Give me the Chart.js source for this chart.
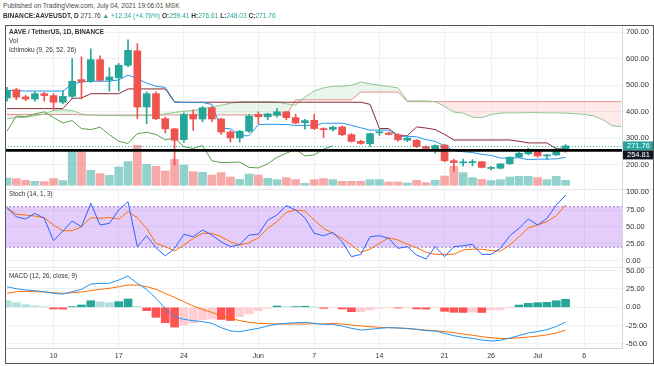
<!DOCTYPE html>
<html><head><meta charset="utf-8">
<script src="https://cdn.jsdelivr.net/npm/chart.js@4.4.1/dist/chart.umd.min.js"></script>
<style>
html,body{margin:0;padding:0;background:#fff;}
body{width:654px;height:366px;position:relative;overflow:hidden;font-family:"Liberation Sans",Arial,sans-serif;}
.t{position:absolute;white-space:nowrap;line-height:8px;z-index:10;color:#333;}
canvas{position:absolute;left:5px;}
#frame{position:absolute;left:5px;top:25px;width:649px;height:339px;box-sizing:border-box;border:1px solid #555;z-index:20;pointer-events:none;}
.sep{position:absolute;left:5px;width:648px;height:1px;background:#e3e5ea;z-index:0;}
</style></head>
<body>
<div class="t" id="h1" style="left:3px;top:2px;font-size:6.6px;color:#4a4a4a;">Published on TradingView.com, July 04, 2021 19:06:01 MSK</div>
<div class="t" id="h2" style="left:3px;top:12px;font-size:6.6px;"></div>
<div id="frame"></div>
<div class="sep" style="top:189px"></div>
<div class="sep" style="top:267px"></div>
<canvas id="cP" width="648" height="170" style="top:26px;z-index:1"></canvas>
<canvas id="cS" width="648" height="78" style="top:189px;z-index:2"></canvas>
<canvas id="cM" width="648" height="96" style="top:267px;z-index:3"></canvas>
<div class="t" style="left:9px;top:28px;font-size:6.4px;font-weight:bold;">AAVE / TetherUS, 1D, BINANCE</div>
<div class="t" style="left:9px;top:37px;font-size:6.4px;">Vol</div>
<div class="t" style="left:9px;top:46px;font-size:6.4px;">Ichimoku (9, 26, 52, 26)</div>
<div class="t" style="left:9px;top:189.5px;font-size:6.4px;">Stoch (14, 1, 3)</div>
<div class="t" style="left:9px;top:272px;font-size:6.4px;">MACD (12, 26, close, 9)</div>
<script>
// ---------- DATA ----------
const dates = ['May 5','May 6','May 7','May 8','May 9','May 10','May 11','May 12','May 13','May 14','May 15','May 16','May 17','May 18','May 19','May 20','May 21','May 22','May 23','May 24','May 25','May 26','May 27','May 28','May 29','May 30','May 31',
'Jun 1','Jun 2','Jun 3','Jun 4','Jun 5','Jun 6','Jun 7','Jun 8','Jun 9','Jun 10','Jun 11','Jun 12','Jun 13','Jun 14','Jun 15','Jun 16','Jun 17','Jun 18','Jun 19','Jun 20','Jun 21','Jun 22','Jun 23','Jun 24','Jun 25','Jun 26','Jun 27','Jun 28','Jun 29','Jun 30',
'Jul 1','Jul 2','Jul 3','Jul 4','Jul 5','Jul 6','Jul 7','Jul 8','Jul 9','Jul 10'];
const tickDates  = ['May 10','May 17','May 24','Jun 1','Jun 7','Jun 14','Jun 21','Jun 26','Jul 1','Jul 6'];
const tickLabels = ['10','17','24','Jun','7','14','21','26','Jul','6'];

const open  = [452,483,456,448,468,461,436,458,521,515,596,519,528,575,629,418,468,374,336,295,390,373,415,373,324,302,327,390,381,387,400,378,359,368,337,334,343,314,289,280,321,320,314,293,293,269,256,275,216,208,209,212,187,188,205,230,242,255,234,238,259.41];
const high  = [492,488,462,475,473,468,480,600,607,637,610,566,582,671,656,475,475,380,338,395,407,420,418,376,330,330,390,400,395,412,402,391,372,391,340,346,346,318,293,320,333,324,318,305,296,272,276,278,222,222,220,214,194,206,231,248,263,258,240,265,276.61];
const low   = [440,445,442,440,440,408,430,450,448,510,516,478,478,570,374,355,370,320,200,285,330,362,363,315,286,286,322,355,370,380,370,355,335,333,303,328,310,286,278,271,311,313,290,288,266,258,245,212,176,196,197,189,181,185,202,228,238,230,221,236,248.03];
const close = [481,455,448,468,461,436,458,515,513,596,518,531,575,631,418,468,374,336,293,390,373,415,373,324,302,327,384,381,392,400,378,358,367,337,333,342,314,289,281,318,323,315,295,301,269,262,273,216,209,210,211,191,189,204,229,244,259,234,238,259.42,271.76];
const volume = [73,67,50,40,37,67,47,343,333,150,117,100,183,237,400,210,190,143,260,203,137,130,103,127,83,60,113,103,70,57,77,57,20,57,67,57,40,40,40,57,57,33,33,23,50,27,50,93,190,127,77,60,47,57,83,90,90,77,57,90,50];

const tenkan = [480,480,478,478,478,478,478,504,512,515,515,515,520,538,525,508,496,492,438,435,435,435,428,337,337,310,310,352,353,353,352,349,349,349,357,357,357,349,340,331,331,331,308,308,306,295,289,272,254,250,247,240,236,226,226,227,220,222,222,223,229];
const kijun  = [412,412,412,412,412,412,412,450,452,468,468,468,468,486,486,486,486,486,436,436,436,436,436,436,436,436,436,436,436,436,436,436,436,436,436,436,436,436,436,428,337,337,310,310,343,339,333,315,294,294,294,294,294,294,294,289,283,283,283,261,261];
const leadA  = [374,378,380,385,392,405,408,405,392,388,386,386,386,385,386,386,388,392,398,402,405,410,418,425,432,438,438,438,438,437,430,425,455,478,490,496,496,500,512,505,500,495,490,441,441,441,438,420,399,395,380,378,390,395,396,396,397,397,396,396,395,393,390,385,370,348,344];
const leadB  = [390,390,390,390,390,390,390,390,388,388,388,388,388,388,388,388,388,388,388,388,388,388,388,388,388,388,388,388,388,388,388,445,445,445,445,445,445,445,474,474,474,474,474,438,438,438,438,438,438,438,438,438,438,438,438,438,438,438,438,438,438,438,438,438,438,438,438];
const lagShift = 25;
const hLineValue = 254.81;

const stochK = [78.5,65,61.7,70,62.7,29.6,44,58.7,50.3,84.9,52.8,55.3,75,87.3,20.8,37,19.3,7,18.3,39,35.5,45.4,38,28,20.8,24,38,39,60,67.6,81.4,75,63.7,40.5,37,42,28,6,9.4,35.5,37,33,18.3,20.8,8.4,2.5,20.8,6,20.8,22.2,24.2,9.4,9.4,18.3,37,47.9,61.7,52.8,62.7,82.4,97];
const stochD = [78.5,68.6,67.6,66,63.7,52.8,44.4,44.4,50.3,63.7,62.7,64,61.7,72.5,63.7,47.9,25.7,20.8,14.4,23.2,33,40.5,40.5,35.5,28,23.2,26.6,34,47.9,57.7,71.6,75,73.5,60.2,47.9,40.5,33,23.2,12.4,17.3,25.7,34,30.6,24.2,19.3,12.4,9.4,9.4,9.4,15.8,17,17,15,14.3,23.2,35.5,48.8,52.8,57.7,66.6,82.4];
const bandHi = 80, bandLo = 20;

const macdLine = [28,25.4,23.6,22.7,21.3,19,18.1,21.3,24.5,31.8,32.7,32.7,37.2,42.7,32.7,24.5,12.2,-1.4,-12.8,-16.4,-18.2,-19.6,-21.8,-27.7,-32.3,-33.2,-30.9,-28.7,-25.5,-22.8,-21.8,-21,-20.5,-21.8,-23.2,-23.2,-25.5,-28.7,-31,-30,-28.7,-27.7,-28.2,-28.7,-30,-31.9,-32.3,-35.5,-38.7,-41,-42.3,-44.6,-46,-45,-42,-38.5,-35,-33,-30.5,-26,-20];
const signalLine = [19,21.3,21.8,21.3,20.9,20,19,20,20.9,22.7,24.5,25.9,28.1,30.4,30.4,28.1,24.5,19,13.6,7.7,1.8,-2.8,-6.9,-11.4,-15,-18.2,-20.5,-21.8,-22.3,-22.8,-22.8,-22.8,-22.8,-22.3,-22.8,-21.8,-22.8,-24.1,-25.5,-26.4,-27.3,-27.7,-28.2,-29.1,-30,-31,-31.9,-33.2,-34.6,-36.4,-38.2,-40,-41.4,-42.5,-42.5,-41.5,-40.5,-39.3,-37.5,-35,-31];
const histogram = [9,6.3,3.6,1.8,0.5,-2.3,-2.5,1,3.2,9,7.5,6.3,7.7,11.3,1.5,-4.5,-13.6,-21,-27,-24,-21,-17,-16,-16.5,-18,-12.7,-9,-4.5,-1.4,1.8,0.9,1,1.5,0.3,-1.4,-0.5,-2.3,-5.9,-5.9,-3.6,-1.4,-0.3,-1,-0.5,-2.3,-2.5,-0.5,-5.5,-6.8,-7,-6.5,-7,-3.6,-3.4,-0.3,3.1,5.4,6.3,6.8,9,10.9];

const priceTicks = [100,200,300,400,500,600,700];
const stochTicks = [0,25,50,75];
const macdTicks  = [-50,-25,0,25,50];

// ---------- LAYOUT / STYLE ----------
const X_MIN = -0.215, X_MAX = 66.06;
const PRICE_MIN = 83.4, PRICE_MAX = 722.6;
const VOL_MIN = -107, VOL_MAX = 1593;
const STOCH_MIN = -9.3, STOCH_MAX = 106.1;
const MACD_MIN = -55.5, MACD_MAX = 55;
const UP = '#26A69A', DOWN = '#EF5350';
const GRID = '#eef0f4';
const AXIS_W = 31;

Chart.defaults.font.family = '"Liberation Sans", Arial, sans-serif';
Chart.defaults.color = '#333';

const tickIdx = tickDates.map(d => dates.indexOf(d));
const pts = arr => arr.map((v, i) => ({x: i, y: v}));
const candleColor = close.map((c, i) => c >= open[i] ? UP : DOWN);
const volColor = close.map((c, i) => c >= open[i] ? 'rgba(38,166,154,0.5)' : 'rgba(239,83,80,0.5)');
const lagging = close.slice(lagShift).map((c, k) => ({x: k, y: c}));
const histColor = histogram.map((h, i) => {
  const p = i > 0 ? histogram[i - 1] : h;
  if (h >= 0) return h > p ? '#26A69A' : '#B2DFDB';
  return h < p ? '#FF5252' : '#FFCDD2';
});

// header
const last = close[close.length - 1], prev = close[close.length - 2];
const chg = last - prev, pct = chg / prev * 100;
const n = open.length - 1;
const G = s => `<span style="color:#26a69a">${s}</span>`;
document.getElementById('h2').innerHTML =
  `<b>BINANCE:AAVEUSDT, D</b> ${last.toFixed(2)} ${G('▲ +' + chg.toFixed(2) + ' (+' + pct.toFixed(2) + '%)')} ` +
  `<b>O:</b>${G(open[n].toFixed(2))} <b>H:</b>${G(high[n].toFixed(2))} <b>L:</b>${G(low[n].toFixed(2))} <b>C:</b>${G(close[n].toFixed(2))}`;

function zeroPad(a) { a.paddingTop = 0; a.paddingBottom = 0; a.paddingLeft = 0; a.paddingRight = 0; }
function xScale(show) {
  return {
    type: 'linear', min: X_MIN, max: X_MAX, offset: false,
    afterBuildTicks: sc => { sc.ticks = tickIdx.map(v => ({value: v})); },
    afterFit: a => { a.height = show ? 15 : 0; zeroPad(a); },
    ticks: {display: show, autoSkip: false, maxRotation: 0, padding: 4, font: {size: 7}, color: '#333',
            callback: (v, i) => tickLabels[i]},
    grid: {color: GRID, drawTicks: false, offset: false},
    border: {display: show, color: '#d1d4dc'}
  };
}
function yScale(min, max, ticks, hideVal) {
  return {
    position: 'right', min, max,
    afterBuildTicks: sc => { sc.ticks = ticks.map(v => ({value: v})); },
    afterFit: a => { a.width = AXIS_W; zeroPad(a); },
    ticks: {padding: 4, autoSkip: false, font: {size: 7.5}, color: '#333', callback: v => v.toFixed(2)},
    grid: {drawTicks: false, color: c => (c.tick && c.tick.value === hideVal) ? 'rgba(0,0,0,0)' : GRID},
    border: {display: true, color: '#d1d4dc'}
  };
}
const baseOpts = {
  responsive: false, animation: false, devicePixelRatio: 1,
  layout: {padding: 0, autoPadding: false},
  plugins: {legend: {display: false}, tooltip: {enabled: false}}
};

// price overlay: last price line, horizontal drawing, axis labels
const priceOverlay = {
  id: 'priceOverlay',
  afterDatasetsDraw(chart) {
    const {ctx, chartArea: a, scales: {y}} = chart;
    const yl = Math.round(y.getPixelForValue(last)) + 0.5;
    const yh = y.getPixelForValue(hLineValue);
    ctx.save();
    ctx.strokeStyle = 'rgba(38,166,154,0.9)'; ctx.lineWidth = 1; ctx.setLineDash([1, 2]);
    ctx.beginPath(); ctx.moveTo(a.left, yl); ctx.lineTo(a.right, yl); ctx.stroke();
    ctx.setLineDash([]); ctx.strokeStyle = '#000'; ctx.lineWidth = 2.6;
    ctx.beginPath(); ctx.moveTo(a.left, yh); ctx.lineTo(a.right, yh); ctx.stroke();
    ctx.restore();
  },
  afterDraw(chart) {
    const {ctx, chartArea: a, scales: {y}} = chart;
    const bh = 9;
    let y1 = y.getPixelForValue(last), y2 = y.getPixelForValue(hLineValue);
    if (y2 - y1 < bh) y2 = y1 + bh;
    ctx.save();
    ctx.font = '7.5px "Liberation Sans", Arial, sans-serif';
    ctx.textBaseline = 'middle'; ctx.textAlign = 'left';
    ctx.fillStyle = UP; ctx.fillRect(a.right + 1, y1 - bh / 2, AXIS_W, bh);
    ctx.fillStyle = '#fff'; ctx.fillText(last.toFixed(2), a.right + 5, y1 + 0.5);
    ctx.fillStyle = '#131722'; ctx.fillRect(a.right + 1, y2 - bh / 2, AXIS_W, bh);
    ctx.fillStyle = '#fff'; ctx.fillText(hLineValue.toFixed(2), a.right + 5, y2 + 0.5);
    ctx.restore();
  }
};

new Chart(document.getElementById('cP'), {
  type: 'bar',
  data: {datasets: [
    {type: 'bar', data: pts(volume), yAxisID: 'yVol', backgroundColor: volColor, barThickness: 8, grouped: false, order: 10},
    {type: 'line', data: pts(leadA), borderColor: '#8cc78f', borderWidth: 1, pointRadius: 0, tension: 0,
     fill: {target: '+1', above: 'rgba(67,160,71,0.11)', below: 'rgba(244,67,54,0.11)'}, order: 8},
    {type: 'line', data: pts(leadB), borderColor: '#ea9390', borderWidth: 1, pointRadius: 0, tension: 0, fill: false, order: 8},
    {type: 'line', data: lagging, borderColor: '#5a9e4b', borderWidth: 1, pointRadius: 0, tension: 0, fill: false, order: 7},
    {type: 'line', data: pts(kijun), borderColor: '#8b2a33', borderWidth: 1, pointRadius: 0, tension: 0, fill: false, order: 6},
    {type: 'line', data: pts(tenkan), borderColor: '#2196F3', borderWidth: 1, pointRadius: 0, tension: 0, fill: false, order: 5},
    {type: 'bar', data: low.map((l, i) => ({x: i, y: [l, high[i]]})), backgroundColor: candleColor, barThickness: 1, grouped: false, order: 2},
    {type: 'bar', data: open.map((o, i) => ({x: i, y: [o, close[i]]})), backgroundColor: candleColor, barThickness: 7, minBarLength: 1, grouped: false, order: 1}
  ]},
  options: Object.assign({}, baseOpts, {
    scales: {
      x: xScale(false),
      y: yScale(PRICE_MIN, PRICE_MAX, priceTicks, 100),
      yVol: {display: false, min: VOL_MIN, max: VOL_MAX}
    }
  }),
  plugins: [priceOverlay]
});

const stochBand = {
  id: 'stochBand',
  beforeDatasetsDraw(chart) {
    const {ctx, chartArea: a, scales: {y}} = chart;
    const yt = y.getPixelForValue(bandHi), yb = y.getPixelForValue(bandLo);
    ctx.save();
    ctx.fillStyle = 'rgba(155,60,238,0.26)';
    ctx.fillRect(a.left, yt, a.right - a.left, yb - yt);
    ctx.strokeStyle = '#a98fd6'; ctx.lineWidth = 1.2; ctx.setLineDash([2, 2]);
    [yt, yb].forEach(yy => { ctx.beginPath(); ctx.moveTo(a.left, yy); ctx.lineTo(a.right, yy); ctx.stroke(); });
    ctx.restore();
  }
};

new Chart(document.getElementById('cS'), {
  type: 'line',
  data: {datasets: [
    {data: pts(stochK), borderColor: '#2962FF', borderWidth: 1, pointRadius: 0, tension: 0, fill: false, order: 1},
    {data: pts(stochD), borderColor: '#FF6D00', borderWidth: 1, pointRadius: 0, tension: 0, fill: false, order: 2}
  ]},
  options: Object.assign({}, baseOpts, {
    scales: {x: xScale(false), y: yScale(STOCH_MIN, STOCH_MAX, stochTicks)}
  }),
  plugins: [stochBand]
});

new Chart(document.getElementById('cM'), {
  type: 'bar',
  data: {datasets: [
    {type: 'bar', data: pts(histogram), backgroundColor: histColor, barThickness: 8, grouped: false, order: 3},
    {type: 'line', data: pts(signalLine), borderColor: '#FF6D00', borderWidth: 1, pointRadius: 0, tension: 0, fill: false, order: 2},
    {type: 'line', data: pts(macdLine), borderColor: '#2196F3', borderWidth: 1, pointRadius: 0, tension: 0, fill: false, order: 1}
  ]},
  options: Object.assign({}, baseOpts, {
    scales: {x: xScale(true), y: yScale(MACD_MIN, MACD_MAX, macdTicks)}
  })
});
</script>
</body></html>
